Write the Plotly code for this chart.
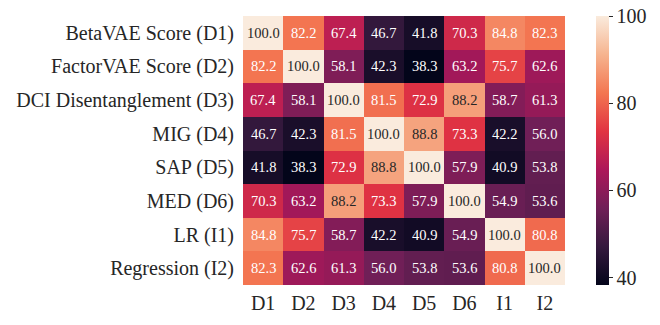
import plotly.graph_objects as go

row_labels = ["BetaVAE Score (D1)", "FactorVAE Score (D2)", "DCI Disentanglement (D3)",
              "MIG (D4)", "SAP (D5)", "MED (D6)", "LR (I1)", "Regression (I2)"]
col_labels = ["D1", "D2", "D3", "D4", "D5", "D6", "I1", "I2"]

row_d1 = [100.0, 82.2, 67.4, 46.7, 41.8, 70.3, 84.8, 82.3]
row_d2 = [82.2, 100.0, 58.1, 42.3, 38.3, 63.2, 75.7, 62.6]
row_d3 = [67.4, 58.1, 100.0, 81.5, 72.9, 88.2, 58.7, 61.3]
row_d4 = [46.7, 42.3, 81.5, 100.0, 88.8, 73.3, 42.2, 56.0]
row_d5 = [41.8, 38.3, 72.9, 88.8, 100.0, 57.9, 40.9, 53.8]
row_d6 = [70.3, 63.2, 88.2, 73.3, 57.9, 100.0, 54.9, 53.6]
row_i1 = [84.8, 75.7, 58.7, 42.2, 40.9, 54.9, 100.0, 80.8]
row_i2 = [82.3, 62.6, 61.3, 56.0, 53.8, 53.6, 80.8, 100.0]

z = [row_d1, row_d2, row_d3, row_d4, row_d5, row_d6, row_i1, row_i2]

rocket = [
    [0.0, "#03051a"],
    [1/7, "#35193e"],
    [2/7, "#701f57"],
    [3/7, "#ad1759"],
    [4/7, "#e13342"],
    [5/7, "#f37651"],
    [6/7, "#f6b48f"],
    [1.0, "#faebdd"],
]

FONT = "Liberation Serif"
zmin = min(min(r) for r in z)
zmax = 100.0

fig = go.Figure(go.Heatmap(
    z=z, x=col_labels, y=row_labels,
    colorscale=rocket, zmin=zmin, zmax=zmax,
    xgap=0, ygap=0,
    hoverinfo="skip",
    colorbar=dict(
        thickness=13, len=1.0, lenmode="fraction", y=0.5, yanchor="middle",
        x=1.096, xanchor="left", xpad=0, ypad=0, outlinewidth=0,
        tickvals=[40, 60, 80, 100], ticks="outside", ticklen=4,
        tickcolor="#262626", tickwidth=1,
        tickfont=dict(family=FONT, size=20, color="#262626"),
    ),
))

annotations = []
for i, rname in enumerate(row_labels):
    for j, cname in enumerate(col_labels):
        v = z[i][j]
        color = "#262626" if v >= 86 else "white"
        annotations.append(dict(
            x=cname, y=rname, xref="x", yref="y", text=f"{v:.1f}",
            showarrow=False, font=dict(family=FONT, size=14.5, color=color),
        ))

fig.update_layout(
    width=660, height=325,
    margin=dict(l=243, r=95, t=16, b=40, autoexpand=False),
    plot_bgcolor="white", paper_bgcolor="white",
    annotations=annotations,
    font=dict(family=FONT, color="#262626"),
    xaxis=dict(showgrid=False, zeroline=False, ticks="", showline=False, automargin=False,
               tickfont=dict(family=FONT, size=20, color="#262626"), ticklabelstandoff=4),
    yaxis=dict(showgrid=False, zeroline=False, ticks="", showline=False, automargin=False,
               autorange="reversed",
               tickfont=dict(family=FONT, size=20, color="#262626"), ticklabelstandoff=8),
)

fig.write_html("out.html", config={"displayModeBar": False},
               post_script="document.body.style.margin='0';")
